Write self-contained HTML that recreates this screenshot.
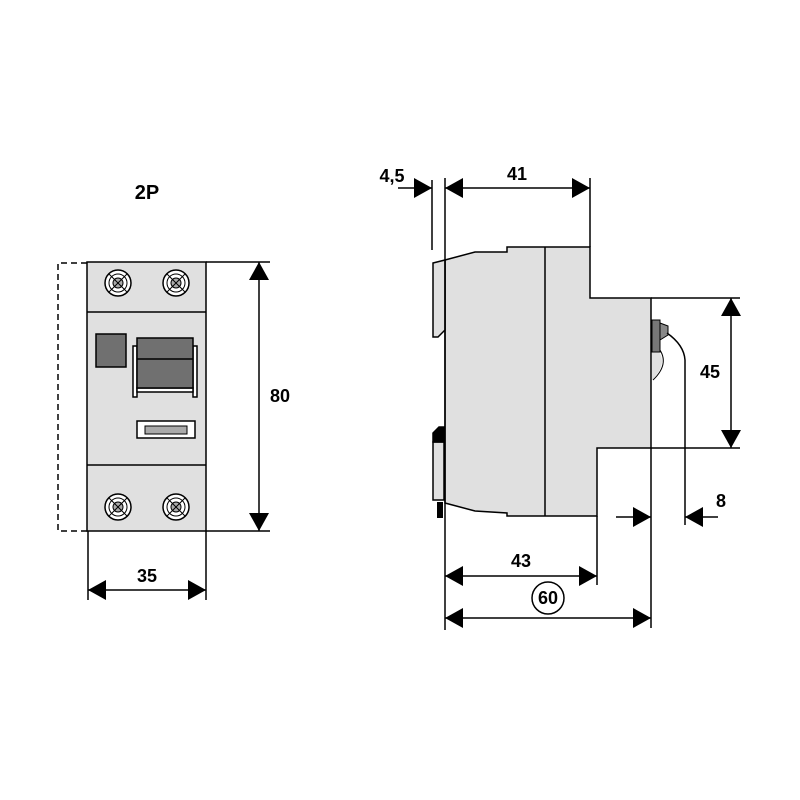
<!DOCTYPE html>
<html><head><style>html,body{margin:0;padding:0;background:#fff}svg{display:block}</style></head>
<body>
<svg width="800" height="800" viewBox="0 0 800 800" xmlns="http://www.w3.org/2000/svg" font-family="Liberation Sans, sans-serif" font-weight="bold">
<defs>
<marker id="a" viewBox="0 0 18 20" refX="18" refY="10" markerWidth="18" markerHeight="20" markerUnits="userSpaceOnUse" orient="auto-start-reverse"><path d="M0,0 L18,10 L0,20 Z" fill="#000"/></marker>
<g id="scr"><circle r="13" fill="#fff" stroke="#000" stroke-width="1.5"/><circle r="9" fill="none" stroke="#000" stroke-width="1"/><circle r="5" fill="#aaa" stroke="#000" stroke-width="1"/><line x1="-9" y1="-9" x2="9" y2="9" stroke="#000" stroke-width="1"/><line x1="-9" y1="9" x2="9" y2="-9" stroke="#000" stroke-width="1"/></g>
</defs>
<g stroke="#000" stroke-width="1.5" fill="none">
<path d="M87,263 H58 V531 H87" stroke-dasharray="6,4"/>
<rect x="87" y="262" width="119" height="269" fill="#e0e0e0"/>
<line x1="87" y1="312" x2="206" y2="312"/>
<line x1="87" y1="465" x2="206" y2="465"/>
<rect x="96" y="334" width="30" height="33" fill="#707070"/>
<rect x="133" y="346" width="4" height="51" fill="#fff"/>
<rect x="193" y="346" width="4" height="51" fill="#fff"/>
<rect x="137" y="388" width="56" height="4" fill="#fff"/>
<rect x="137" y="338" width="56" height="50" fill="#707070"/>
<line x1="137" y1="359" x2="193" y2="359"/>
<rect x="137" y="421" width="58" height="17" fill="#fff"/>
<rect x="145" y="426" width="42" height="8" fill="#aaa" stroke-width="1"/>
<line x1="206" y1="262" x2="270" y2="262"/>
<line x1="206" y1="531" x2="270" y2="531"/>
<line x1="259" y1="262" x2="259" y2="531" marker-start="url(#a)" marker-end="url(#a)"/>
<line x1="88" y1="531" x2="88" y2="600"/>
<line x1="206" y1="531" x2="206" y2="600"/>
<line x1="88" y1="590" x2="206" y2="590" marker-start="url(#a)" marker-end="url(#a)"/>
<path d="M445,260 L475,252 H507 V247 H590 V298 H651 V448 H597 V516 H507 V513 L475,511 L445,503 Z" fill="#e0e0e0"/>
<line x1="545" y1="247" x2="545" y2="516"/>
<path d="M433,263 L445,260 V330 L438,337 H433 Z" fill="#e0e0e0"/>
<path d="M433,442 H444 V500 H433 Z" fill="#e0e0e0"/>
<path d="M433,442 V433 L439,427 H444 V442 Z" fill="#000"/>
<rect x="437" y="502" width="6" height="16" fill="#000" stroke="none"/>
<path d="M652,345 Q672,360 652,380 Z" fill="#e0e0e0" stroke="none"/>
<path d="M656,345 Q672,362 653,380" stroke-width="1"/>
<rect x="652" y="320" width="8" height="32" fill="#777" stroke-width="1"/>
<path d="M660,323 L668,326 V335 L660,340 Z" fill="#888" stroke-width="1"/>
<path d="M667,333 Q684,345 685,360 V525" stroke-width="1.5"/>
<line x1="445" y1="178" x2="445" y2="630"/>
<line x1="432" y1="180" x2="432" y2="250"/>
<line x1="590" y1="178" x2="590" y2="247"/>
<line x1="398" y1="188" x2="432" y2="188" marker-end="url(#a)"/>
<line x1="445" y1="188" x2="590" y2="188" marker-start="url(#a)" marker-end="url(#a)"/>
<line x1="651" y1="298" x2="740" y2="298"/>
<line x1="651" y1="448" x2="740" y2="448"/>
<line x1="731" y1="298" x2="731" y2="448" marker-start="url(#a)" marker-end="url(#a)"/>
<line x1="651" y1="448" x2="651" y2="628"/>
<line x1="597" y1="516" x2="597" y2="585"/>
<line x1="616" y1="517" x2="651" y2="517" marker-end="url(#a)"/>
<line x1="718" y1="517" x2="685" y2="517" marker-end="url(#a)"/>
<line x1="445" y1="576" x2="597" y2="576" marker-start="url(#a)" marker-end="url(#a)"/>
<line x1="445" y1="618" x2="651" y2="618" marker-start="url(#a)" marker-end="url(#a)"/>
<circle cx="548" cy="598" r="16"/>
</g>
<use href="#scr" x="118" y="283"/><use href="#scr" x="176" y="283"/>
<use href="#scr" x="118" y="507"/><use href="#scr" x="176" y="507"/>
<g font-size="18" text-anchor="middle" fill="#000">
<text x="147" y="199" font-size="20">2P</text>
<text x="280" y="402">80</text>
<text x="147" y="582">35</text>
<text x="392" y="182">4,5</text>
<text x="517" y="180">41</text>
<text x="710" y="378">45</text>
<text x="721" y="507">8</text>
<text x="521" y="567">43</text>
<text x="548" y="604">60</text>
</g>
</svg>
</body></html>
